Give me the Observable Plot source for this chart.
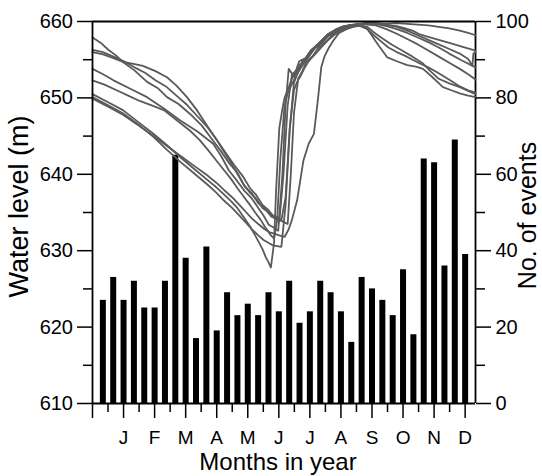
<!DOCTYPE html>
<html>
<head>
<meta charset="utf-8">
<script src="https://cdn.jsdelivr.net/npm/d3@7"></script>
<script src="https://cdn.jsdelivr.net/npm/@observablehq/plot@0.6"></script>
<style>
  body { margin: 0; background: #fff; }
  #chart { position: relative; width: 542px; height: 476px; }
  #chart svg { position: absolute; left: 0; top: 0; }
</style>
</head>
<body>
<div id="chart"></div>
<script>
// Month initials, one label per month (placed at the month's last ten-day period)
const months = ["J", "F", "M", "A", "M", "J", "J", "A", "S", "O", "N", "D"];

// Number of events in each ten-day period of the year (36 periods)
const events = [27, 33, 27, 32, 25, 25, 32, 65, 38, 17, 41, 19,
                29, 23, 26, 23, 29, 24, 32, 21, 24, 32, 29, 24,
                16, 33, 30, 27, 23, 35, 18, 64, 63, 36, 69, 39];

// Daily reservoir water level (m) for several years: [day of year, level]
const curve1 = [[0,657.9],[8,657.2],[15,656.3],[22,655.6],[29,654.7],[40,653.6],[52,652.1],[62,651.3],[71,650.1],[82,649.2],[93,647.9],[104,646.4],[115,644.4],[122,643.1],[130,641.5],[138,640.2],[145,638.4],[152,637.5],[158,636.2],[164,635.6],[170,634.5],[175,634.2],[178,633.8],[182,640],[186,649],[190,653],[194,653.6],[197,654.8],[203,655.2],[208,656.2],[215,656.8],[222,657.9],[229,658.4],[236,659.2],[243,659.3],[250,659.6],[260,659.7],[270,659.8],[280,659.7],[290,659.8],[300,659.7],[310,659.6],[320,659.5],[330,659.3],[340,659.1],[350,658.8],[358,658.5],[365,658.2]];
const curve2 = [[0,656.3],[10,656],[20,655.4],[30,654.8],[40,654],[50,653.3],[60,652.3],[70,651.5],[80,650.3],[90,649.1],[100,647.6],[110,646.1],[120,644.2],[128,642.6],[135,641.2],[143,639.8],[150,638.2],[156,637.3],[162,636],[167,635.4],[172,634.6],[176,634.4],[180,634],[184,637],[188,646],[192,652],[196,653.4],[200,654.8],[206,655.4],[212,656.5],[219,657.2],[226,658.3],[233,658.7],[240,659.2],[248,659.4],[256,659.6],[265,659.7],[275,659.7],[283,659.5],[290,659.4],[298,659.1],[305,658.8],[312,658.3],[320,658],[330,657.6],[340,657.2],[352,656.7],[365,656.2]];
const curve3 = [[0,656],[10,655.7],[20,655.2],[29,654.7],[38,654.5],[48,654.2],[60,653.5],[71,652.7],[80,651.6],[90,650.1],[100,648.3],[110,646.2],[118,644.6],[125,643],[132,641.5],[138,640.1],[144,638.7],[150,637.6],[156,636.8],[162,635.6],[168,635],[174,634.2],[180,633.9],[186,633.5],[189,640],[192,648],[196,652.5],[200,653.5],[204,654.8],[210,655.5],[215,656.5],[222,657.3],[230,658.4],[238,659],[245,659.5],[252,659.6],[260,659.8],[270,659.8],[280,659.6],[290,659.3],[300,658.8],[310,658.2],[320,657.6],[330,657],[340,656.4],[350,655.8],[358,655.1],[362,654.2],[363,655.8],[365,656]];
const curve4 = [[0,653.8],[10,653.1],[20,652.3],[36,651.2],[52,650.1],[68,648.6],[84,647],[100,645.6],[115,644],[123,642.3],[130,640.5],[138,639.1],[145,637.8],[152,636.8],[158,635.6],[163,634.6],[168,633.4],[173,633],[177,632.6],[181,640],[184,649],[187,653.8],[192,652.8],[198,654.4],[203,655.1],[208,656.2],[216,657.2],[224,658.3],[232,658.9],[240,659.4],[250,659.6],[260,659.8],[270,659.7],[280,659.4],[290,659],[300,658.5],[310,657.9],[320,657.3],[330,656.6],[340,655.8],[352,654.9],[365,654]];
const curve5 = [[0,652.3],[12,651.7],[23,651],[34,650.3],[45,649.6],[57,649],[68,648.4],[80,647.1],[93,645.7],[102,644.5],[110,643.2],[118,641.8],[125,640.6],[132,639.4],[138,638.2],[144,637.1],[150,636],[155,635],[160,634.1],[164,633.2],[167,632.6],[170,632],[173,631.6],[176,634],[179,642],[183,649],[186,650.6],[189,651.5],[194,652.9],[199,654],[205,655.3],[211,656.4],[218,657.4],[225,658.3],[232,658.9],[240,659.4],[248,659.6],[255,659.7],[262,659.6],[270,659.5],[280,659],[290,658.4],[300,657.7],[310,657],[320,656.2],[330,655.4],[340,654.6],[350,653.8],[358,653.1],[365,652.4]];
const curve6 = [[0,650.5],[14,649.5],[29,648.4],[44,646.8],[58,645.3],[71,643.8],[84,642.2],[97,640.7],[110,639.2],[118,638.3],[125,637.4],[132,636.5],[138,635.6],[144,634.4],[150,633.2],[155,632],[159,631],[162,630.2],[165,629.2],[168,628.4],[170,627.8],[173,631],[175,638],[178,646],[181,648.6],[183,650],[187,651.4],[190,652.5],[195,653.6],[200,654.6],[206,655.7],[212,656.6],[219,657.6],[225,658.4],[232,659],[240,659.4],[246,659.5],[252,659.6],[257,659.3],[262,659],[268,658.2],[275,657.4],[282,656.6],[290,656],[298,655.5],[305,655],[312,654.5],[320,654],[328,653.4],[335,652.8],[342,652.2],[350,651.5],[358,651],[365,650.7]];
const curve7 = [[0,650.1],[14,649.1],[29,648],[44,646.5],[58,644.9],[71,643.2],[84,641.6],[97,640.1],[110,638.6],[118,637.6],[125,636.6],[133,635.6],[140,634.6],[146,633.7],[152,632.8],[158,632],[163,631.4],[168,631],[172,630.7],[176,630.6],[180,630.5],[184,636],[188,646],[192,651],[195,652.1],[198,652.8],[202,653.9],[206,654.8],[212,655.7],[218,656.6],[224,657.5],[230,658.2],[238,658.8],[245,659.2],[252,659.4],[258,659.4],[262,659],[265,658.4],[272,657],[281,655.3],[290,654.8],[300,654.3],[308,654.1],[315,653.8],[324,652.7],[334,651.4],[342,651],[350,650.6],[358,650.3],[365,650.1]];
const curve8 = [[0,649.9],[14,648.9],[29,647.8],[44,646.4],[58,645],[71,643.7],[84,642.4],[97,641.1],[110,639.8],[118,638.9],[125,638],[133,637],[140,636],[146,635.1],[152,634.2],[158,633.5],[164,632.8],[169,632.4],[174,632.2],[178,632],[183,631.8],[187,632.8],[190,634],[195,636.6],[201,641.8],[206,644],[211,645.3],[215,650],[218,654],[221,655.4],[225,656.5],[230,657.6],[235,658.5],[242,659],[250,659.4],[256,659.4],[262,659.3],[268,658.6],[275,657.9],[285,657],[295,656.2],[305,655.4],[315,654.5],[322,653.5],[330,652.5],[340,651.9],[350,651.4],[358,650.9],[365,650.5]];

// Axis tick values
const levelMajor = [610, 620, 630, 640, 650, 660];
const levelMinor = [615, 625, 635, 645, 655];
const eventMajor = [0, 20, 40, 60, 80, 100];
const eventMinor = [10, 30, 50, 70, 90];

const curves = [curve1, curve2, curve3, curve4, curve5, curve6, curve7, curve8];
const levelRows = curves.flatMap((c, k) => c.map(([day, level]) => ({day, level, id: k})));
const barRows = events.map((v, i) => ({period: i, events: v}));

// Ten-day periods are indexed 0..35; the frame runs from -1 to 36
const monthTicks = d3.range(-1, 36, 3);          // long ticks, labelled except the first
const halfTicks = d3.range(0.5, 35, 3);          // short ticks between months

const common = {
  width: 542,
  height: 476,
  marginLeft: 92,
  marginRight: 67,
  marginTop: 21,
  marginBottom: 73,
  style: {
    fontFamily: "'Liberation Sans', Arial, sans-serif",
    fontSize: "20px",
    color: "#000",
    background: "none",
    overflow: "visible"
  }
};

// Bottom layer: event counts, month axis and right-hand axis
const barsPlot = Plot.plot({
  ...common,
  x: {type: "linear", domain: [-1, 36]},
  y: {domain: [0, 100]},
  marks: [
    Plot.ruleX(barRows, {x: "period", y1: 0, y2: "events", stroke: "#000", strokeWidth: 6}),
    Plot.axisX(monthTicks, {
      label: null, tickSize: 15, tickPadding: 12, strokeWidth: 1.5, fontSize: 19,
      tickFormat: d => d < 0 ? "" : months[(d - 2) / 3]
    }),
    Plot.axisX(halfTicks, {label: null, tickSize: 9, strokeWidth: 1.5, tickFormat: () => ""}),
    Plot.axisY(eventMajor, {anchor: "right", label: null, tickSize: 15, tickPadding: 5, strokeWidth: 1.5, fontSize: 20}),
    Plot.axisY(eventMinor, {anchor: "right", label: null, tickSize: 9, strokeWidth: 1.5, tickFormat: () => ""}),
    Plot.ruleY([0], {stroke: "#000", strokeWidth: 1.8}),
    Plot.ruleX([36], {stroke: "#000", strokeWidth: 1.8}),
    Plot.text(["No. of events"], {
      text: d => d, frameAnchor: "right", dx: 52, dy: 3, rotate: -90,
      textAnchor: "middle", lineAnchor: "middle", fontSize: 25, fill: "#000"
    }),
    Plot.text(["Months in year"], {
      text: d => d, frameAnchor: "bottom", dx: -6, dy: 59,
      textAnchor: "middle", lineAnchor: "middle", fontSize: 24, fill: "#000"
    })
  ]
});

// Top layer: water level curves, left-hand axis and top border
const linesPlot = Plot.plot({
  ...common,
  x: {domain: [0, 365], axis: null},
  y: {domain: [610, 660]},
  marks: [
    Plot.line(levelRows, {x: "day", y: "level", z: "id", stroke: "#5a5a5a", strokeWidth: 1.8, strokeLinejoin: "round"}),
    Plot.axisY(levelMajor, {anchor: "left", label: null, tickSize: 15, tickPadding: 4.5, strokeWidth: 1.5, fontSize: 20}),
    Plot.axisY(levelMinor, {anchor: "left", label: null, tickSize: 9, strokeWidth: 1.5, tickFormat: () => ""}),
    Plot.ruleX([0], {stroke: "#000", strokeWidth: 1.8}),
    Plot.ruleY([660], {stroke: "#000", strokeWidth: 1.8}),
    Plot.text(["Water level (m)"], {
      text: d => d, frameAnchor: "left", dx: -73, dy: -6, rotate: -90,
      textAnchor: "middle", lineAnchor: "middle", fontSize: 27, fill: "#000"
    })
  ]
});

const chart = document.getElementById("chart");
chart.appendChild(barsPlot);
chart.appendChild(linesPlot);
</script>
</body>
</html>
